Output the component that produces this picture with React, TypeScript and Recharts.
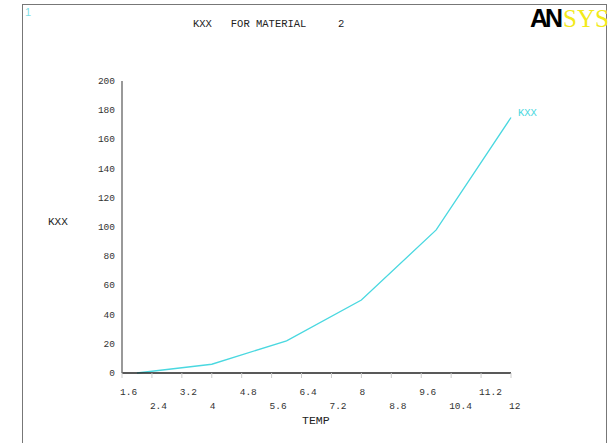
import React from "react";
import { LineChart, Line, XAxis, YAxis } from "recharts";

const temps = [2, 4, 6, 8, 10, 12];
const kxxValues = [0, 6, 22, 50, 98, 175];
const xTicks = [1.6, 2.4, 3.2, 4, 4.8, 5.6, 6.4, 7.2, 8, 8.8, 9.6, 10.4, 11.2, 12];
const yTicks = [0, 20, 40, 60, 80, 100, 120, 140, 160, 180, 200];

const data = temps.map((t, i) => ({ temp: t, kxx: kxxValues[i] }));

const MONO = "'Liberation Mono', 'DejaVu Sans Mono', monospace";
const CYAN = "#4ad8e0";

const XTick = (props: any) => {
  const { x, y, payload, index } = props;
  const dy = index % 2 === 0 ? 15 : 29;
  return (
    <text x={x - 2} y={y + dy} fontFamily={MONO} fontSize={9.5} fill="#333" textAnchor="start">
      {String(payload.value)}
    </text>
  );
};

const YTick = (props: any) => {
  const { x, y, payload } = props;
  return (
    <text x={x + 1} y={y + 3} fontFamily={MONO} fontSize={9.5} fill="#333" textAnchor="end">
      {String(payload.value)}
    </text>
  );
};

const abs = (l: number, t: number, extra: React.CSSProperties = {}): React.CSSProperties => ({
  position: "absolute",
  left: l,
  top: t,
  whiteSpace: "pre",
  lineHeight: 1,
  ...extra,
});

export default function App() {
  return (
    <div style={{ position: "absolute", left: 0, top: 0, width: 612, height: 443, background: "#fff", overflow: "hidden" }}>
      <div style={{ position: "absolute", left: 22, top: 4, width: 585, height: 460, border: "1.5px solid #777", boxSizing: "border-box" }} />
      <LineChart
        width={612}
        height={443}
        data={data}
        margin={{ top: 81, right: 101, bottom: 30, left: 82 }}
      >
        <XAxis
          dataKey="temp"
          type="number"
          domain={[1.6, 12]}
          ticks={xTicks}
          interval={0}
          height={40}
          axisLine={{ stroke: "#222", strokeWidth: 1.5 }}
          tickLine={{ stroke: "#ccc" }}
          tickSize={5}
          tick={<XTick />}
        />
        <YAxis
          type="number"
          domain={[0, 200]}
          ticks={yTicks}
          interval={0}
          width={40}
          axisLine={{ stroke: "#777", strokeWidth: 1.5 }}
          tickLine={false}
          tick={<YTick />}
        />
        <Line
          type="linear"
          dataKey="kxx"
          stroke={CYAN}
          strokeWidth={1.3}
          dot={false}
          isAnimationActive={false}
        />
      </LineChart>
      <div style={abs(25, 7, { fontFamily: "'Liberation Sans', sans-serif", fontSize: 11, color: "#7fe0e6" })}>1</div>
      <div style={abs(193, 19, { fontFamily: MONO, fontSize: 10.5, color: "#222" })}>{"KXX   FOR MATERIAL     2"}</div>
      <div style={abs(48, 217, { fontFamily: MONO, fontSize: 11, color: "#222" })}>KXX</div>
      <div style={abs(302, 415, { fontFamily: MONO, fontSize: 11.5, color: "#222" })}>TEMP</div>
      <div style={abs(518, 108, { fontFamily: MONO, fontSize: 10.5, color: CYAN })}>KXX</div>
      <div style={abs(530, 6, { fontSize: 25, lineHeight: 1, display: "flex", alignItems: "baseline" })}>
        <span style={{ fontFamily: "'Liberation Sans', sans-serif", fontWeight: 900, color: "#000", letterSpacing: -3 }}>AN</span>
        <span style={{ fontFamily: "'Liberation Serif', serif", color: "#f2ea1a", marginLeft: 3 }}>SYS</span>
      </div>
    </div>
  );
}
